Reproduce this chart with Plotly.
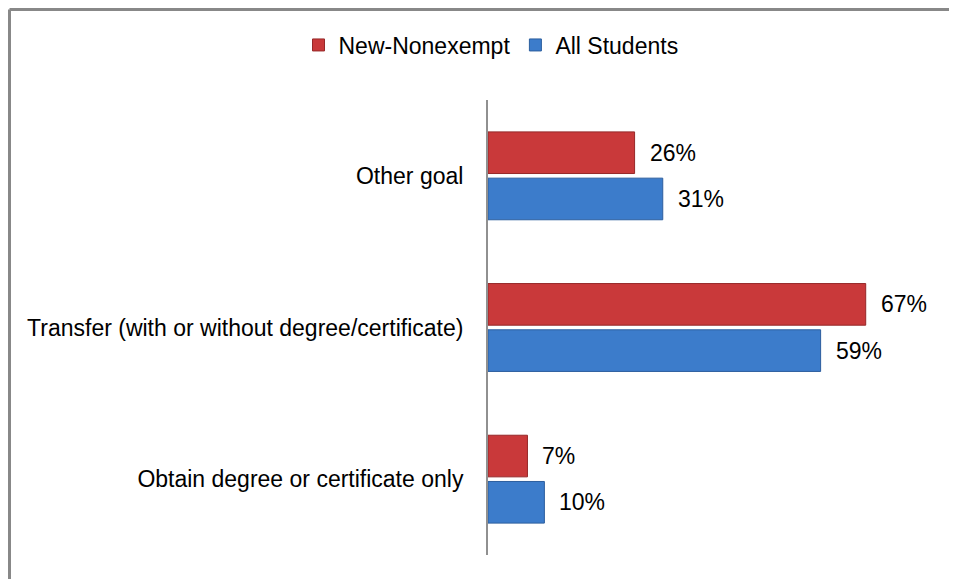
import plotly.graph_objects as go

categories = ["Obtain degree or certificate only",
              "Transfer (with or without degree/certificate)",
              "Other goal"]
new_nonexempt = [0.07, 0.67, 0.26]
all_students = [0.10, 0.59, 0.31]
series_names = ["New-Nonexempt", "All Students"]

FONT = "Liberation Sans Narrow, Arial Narrow, Liberation Sans, Arial, sans-serif"
RED = "#C9393A"
BLUE = "#3C7CCB"
BARGAP = 0.39

fig = go.Figure()
fig.add_trace(go.Bar(y=categories, x=all_students, orientation="h", name=series_names[1],
                     marker=dict(color=BLUE, line=dict(color="#2C5E9E", width=1)),
                     legendrank=2))
fig.add_trace(go.Bar(y=categories, x=new_nonexempt, orientation="h", name=series_names[0],
                     marker=dict(color=RED, line=dict(color="#962828", width=1)),
                     legendrank=1))

# data labels, centred on each bar of the group
off = (1 - BARGAP) / 4
for vals, o in ((all_students, -off), (new_nonexempt, off)):
    for i, v in enumerate(vals):
        fig.add_annotation(x=v, y=i + o, xref="x", yref="y", text=f"{round(v*100)}%",
                           showarrow=False, xanchor="left", xshift=13,
                           font=dict(family=FONT, size=23, color="#000"))

# the page body has an 8px margin; figure coordinates are offset by it
W, H = 949, 571
L, R, T, B = 480, 18, 92, 24
pw, ph = W - L - R, H - T - B
def px(x): return (x - L) / pw
def py(y): return (H - B - y) / ph

fig.add_shape(type="line", xref="paper", yref="paper", x0=px(1.5), x1=px(W), y0=py(1.5), y1=py(1.5),
              line=dict(color="#888888", width=3))
fig.add_shape(type="line", xref="paper", yref="paper", x0=px(1.5), x1=px(1.5), y0=py(1.5), y1=py(H),
              line=dict(color="#888888", width=3))

fig.update_layout(
    width=W, height=H,
    margin=dict(l=L, r=R, t=T, b=B),
    barmode="group", bargap=BARGAP, bargroupgap=0.1,
    plot_bgcolor="white", paper_bgcolor="white",
    font=dict(family=FONT, size=23, color="#000"),
    showlegend=True,
    legend=dict(orientation="h", x=px(483), xanchor="center", y=py(37), yanchor="middle",
                font=dict(family=FONT, size=23, color="#000"), itemwidth=30),
    xaxis=dict(range=[0, 0.8], visible=False, fixedrange=True),
    yaxis=dict(showline=True, linecolor="#909090", linewidth=2, ticks="",
               ticklabelstandoff=18, tickfont=dict(family=FONT, size=23, color="#000"),
               showgrid=False, zeroline=False),
)
fig.write_html("out.html")
